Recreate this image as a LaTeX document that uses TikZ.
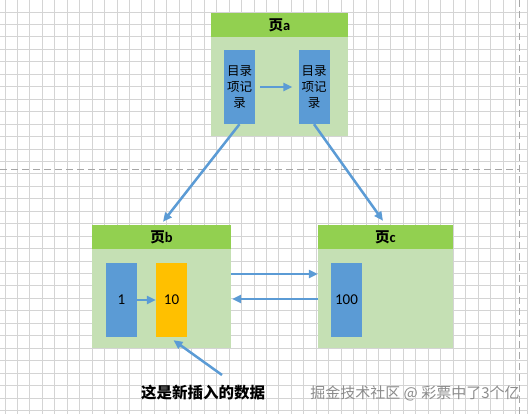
\documentclass[tikz,border=0pt]{standalone}
\usepackage{fontspec}
\setmainfont{Carlito}
\newfontfamily\cjk{Noto Sans CJK SC}
\usetikzlibrary{arrows.meta,calc}
\definecolor{hdr}{HTML}{92D050}
\definecolor{body}{HTML}{C5E0B4}
\definecolor{blu}{HTML}{5B9BD5}
\definecolor{org}{HTML}{FFC000}
\definecolor{gridc}{HTML}{D4D4D4}
\definecolor{dashc}{HTML}{A6A6A6}
\definecolor{wmc}{HTML}{8C8C8C}
\tikzset{
  gridline/.style={draw=gridc, line width=0.75pt},
  sepline/.style={draw=dashc, line width=1pt, dash pattern=on 7pt off 4pt},
  page/.style={fill=body, draw=none, inner sep=0pt, minimum height=123pt},
  hdrbox/.style={fill=hdr, draw=none, inner sep=0pt, minimum height=24pt, anchor=north,
    font=\fontsize{14.5}{16}\selectfont\bfseries},
  rec/.style={draw=none, inner sep=0pt, minimum width=31pt, minimum height=74pt, align=center},
  arr/.style={draw=blu, line width=2.5pt, -{Triangle[length=9pt,width=8pt]}},
}
\begin{document}
\begin{tikzpicture}[x=1pt,y=-1pt]
\useasboundingbox[fill=white] (0,0) rectangle (528,414);
% grid
\foreach \i in {0,...,42} \draw[gridline] ({4.9+12.45*\i},0) -- ({4.9+12.45*\i},414);
\foreach \j in {1,...,33} \draw[gridline] (0,{-0.5+12.45*\j}) -- (528,{-0.5+12.45*\j});
% separators
\draw[sepline] (0,170) -- (519,170);
\draw[sepline] (519,0) -- (519,414);
% pages
\node[page, minimum width=137pt] (pa) at (279.5,74.5) {};
\node[hdrbox, minimum width=137pt] (ha) at (pa.north) {{\cjk\bfseries 页}a};
\node[page, minimum width=139pt] (pb) at (161.5,286.5) {};
\node[hdrbox, minimum width=139pt] (hb) at (pb.north) {{\cjk\bfseries 页}b};
\node[page, minimum width=135pt] (pc) at (385.5,286.5) {};
\node[hdrbox, minimum width=135pt] (hc) at (pc.north) {{\cjk\bfseries 页}c};
% records
\node[rec, fill=blu, font=\cjk\fontsize{12.5}{16}\selectfont] (a1) at (239.5,87) {目录\\项记\\录};
\node[rec, fill=blu, font=\cjk\fontsize{12.5}{16}\selectfont] (a2) at (314,87) {目录\\项记\\录};
\node[rec, fill=blu, font=\fontsize{15}{16}\selectfont] (b1) at (121.5,300) {1};
\node[rec, fill=org, font=\fontsize{15}{16}\selectfont] (b2) at (171.5,300) {10};
\node[rec, fill=blu, font=\fontsize{15}{16}\selectfont] (c1) at (346.5,300) {100};
% connectors
\draw[arr] ($(a1.east)+(5,0)$) -- ($(a2.west)+(-6,0)$);
\draw[arr] (a1.south) -- ($(pb.north)+(1.5,-3)$);
\draw[arr] (a2.south) -- ($(pc.north)+(-2.5,-4)$);
\draw[arr] ($(pb.east)+(0,-12.5)$) -- ($(pc.west)+(0,-12.5)$);
\draw[arr] ($(pc.west)+(0,12.5)$) -- ($(pb.east)+(1,12.5)$);
\draw[arr] (b1.east) -- (b2.west);
% label
\node[font=\cjk\bfseries\fontsize{15.5}{18}\selectfont] (lbl) at (203,393) {这是新插入的数据};
\coordinate (ls) at (222,375);
\draw[arr] (ls) -- ($(b2.south)+(2,3)$);
% watermark
\node[text=wmc, font=\cjk\fontsize{15}{18}\selectfont] (wm) at (415,393) {掘金技术社区 @ 彩票中了3个亿};
\end{tikzpicture}
\end{document}
